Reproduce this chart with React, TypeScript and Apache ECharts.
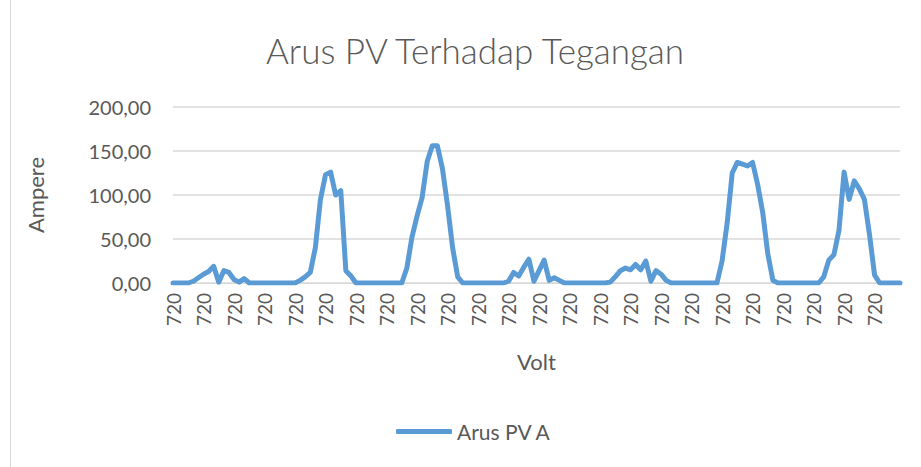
import React, { useEffect, useRef } from "react";
import * as echarts from "echarts";

const title = "Arus PV Terhadap Tegangan";
const seriesName = "Arus PV A";
const xAxisName = "Volt";
const yAxisName = "Ampere";
const yTicks = [0, 50, 100, 150, 200];

// Arus (A) per sample; every sample is at 720 V
const arus: number[] = [
  0, 0, 0, 0, 2, 6, 10, 13, 19, 1,
  14, 12, 4, 1, 5, 0, 0, 0, 0, 0,
  0, 0, 0, 0, 0, 3, 7, 12, 40, 95,
  123, 126, 100, 105, 14, 8, 0, 0, 0, 0,
  0, 0, 0, 0, 0, 0, 17, 52, 76, 97,
  138, 156, 156, 130, 88, 40, 7, 0, 0, 0,
  0, 0, 0, 0, 0, 0, 2, 12, 8, 18,
  27, 2, 14, 26, 3, 6, 3, 0, 0, 0,
  0, 0, 0, 0, 0, 0, 1, 7, 14, 17,
  15, 21, 15, 25, 2, 14, 10, 3, 0, 0,
  0, 0, 0, 0, 0, 0, 0, 0, 25, 68,
  125, 137, 135, 133, 137, 112, 80, 33, 3, 0,
  0, 0, 0, 0, 0, 0, 0, 0, 7, 26,
  32, 60, 126, 95, 116, 107, 95, 55, 9, 0,
  0, 0, 0, 0,
];
const volt: string[] = arus.map(() => "720");

const FONT = "Lato, 'Open Sans', sans-serif";
const TEXT = "#595959";

export default function App() {
  const ref = useRef<HTMLDivElement>(null);
  useEffect(() => {
    if (!ref.current) return;
    const chart = echarts.init(ref.current, undefined, { renderer: "svg" });
    chart.setOption({
      animation: false,
      backgroundColor: "#ffffff",
      textStyle: { fontFamily: FONT, color: TEXT },
      title: {
        text: title,
        left: 261,
        top: 27,
        textStyle: { fontFamily: FONT, fontSize: 35, fontWeight: 300, color: TEXT },
      },
      legend: {
        data: [seriesName],
        bottom: 20,
        left: 391,
        itemWidth: 56,
        itemHeight: 5,
        itemGap: 3,
        icon: "roundRect",
        textStyle: { fontFamily: FONT, fontSize: 21, color: TEXT },
      },
      grid: { left: 173, right: 21, top: 107, bottom: 184, containLabel: false },
      xAxis: {
        type: "category",
        data: volt,
        boundaryGap: false,
        name: xAxisName,
        nameLocation: "middle",
        nameGap: 67,
        nameTextStyle: { fontFamily: FONT, fontSize: 22, color: TEXT },
        axisLine: { lineStyle: { color: "#d9d9d9", width: 1 } },
        axisTick: { show: false },
        axisLabel: {
          interval: 5,
          rotate: 90,
          margin: 10,
          fontFamily: FONT,
          fontSize: 19,
          color: TEXT,
        },
      },
      yAxis: {
        type: "value",
        min: 0,
        max: 200,
        interval: 50,
        name: yAxisName,
        nameLocation: "middle",
        nameGap: 127,
        nameTextStyle: { fontFamily: FONT, fontSize: 22, color: TEXT },
        axisLine: { show: false },
        axisTick: { show: false },
        splitLine: { lineStyle: { color: "#d9d9d9", width: 1.5 } },
        axisLabel: {
          margin: 22,
          fontFamily: FONT,
          fontSize: 20,
          color: TEXT,
          formatter: (v: number) => (yTicks.includes(v) ? v.toFixed(2).replace(".", ",") : ""),
        },
      },
      graphic: [
        {
          type: "line",
          shape: { x1: 10.5, y1: 0, x2: 10.5, y2: 467 },
          style: { stroke: "#d9d9d9", lineWidth: 1 },
        },
      ],
      series: [
        {
          name: seriesName,
          type: "line",
          data: arus,
          showSymbol: false,
          symbol: "none",
          color: "#5b9bd5",
          lineStyle: { color: "#5b9bd5", width: 5, cap: "round", join: "round" },
        },
      ],
    });
    return () => chart.dispose();
  }, []);
  return (
    <div
      ref={ref}
      style={{ position: "fixed", left: 0, top: 0, width: 921, height: 467 }}
    />
  );
}
